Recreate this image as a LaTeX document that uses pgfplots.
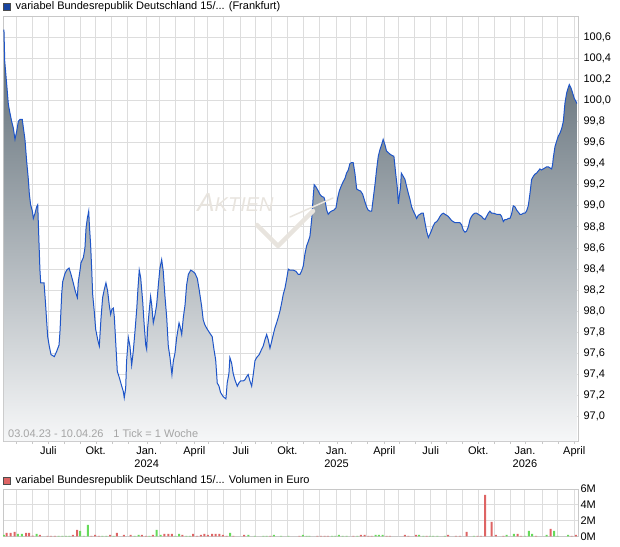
\documentclass[border=0pt]{standalone}
\usepackage{pgfplots}
\pgfplotsset{compat=1.18}
\usepackage{pgfplotstable}
\usepackage{fontspec}
\setmainfont{Liberation Sans}
\definecolor{gridcol}{RGB}{221,221,221}
\definecolor{bordercol}{RGB}{200,200,200}
\definecolor{linecol}{RGB}{30,85,200}
\definecolor{shtop}{RGB}{90,104,114}
\definecolor{shmid}{RGB}{152,162,168}
\definecolor{shbot}{RGB}{246,247,248}
\definecolor{volred}{RGB}{222,100,100}
\definecolor{volgreen}{RGB}{102,218,90}
\definecolor{wm}{RGB}{232,228,222}
\definecolor{infocol}{RGB}{165,165,165}

\pgfplotstableread{
m v
2.94 100.67
2.99 100.37
3.11 100.16
3.22 99.96
3.32 99.88
3.43 99.80
3.53 99.74
3.64 99.63
3.75 99.71
3.85 99.80
3.96 99.82
4.10 99.82
4.17 99.74
4.27 99.63
4.38 99.42
4.48 99.26
4.55 99.11
4.63 99.01
4.74 98.95
4.80 98.88
4.91 98.93
5.01 98.99
5.08 99.01
5.16 98.65
5.22 98.39
5.27 98.27
5.48 98.27
5.58 98.06
5.71 97.76
5.81 97.67
5.92 97.59
6.13 97.57
6.28 97.62
6.43 97.68
6.49 97.81
6.60 98.17
6.66 98.28
6.81 98.36
6.91 98.39
7.06 98.41
7.17 98.36
7.33 98.27
7.46 98.19
7.59 98.13
7.65 98.28
7.76 98.39
7.82 98.46
7.97 98.51
8.07 98.60
8.14 98.79
8.22 98.88
8.31 98.95
8.35 98.82
8.43 98.63
8.50 98.39
8.56 98.16
8.66 98.00
8.75 97.83
8.88 97.73
8.98 97.67
9.09 97.94
9.19 98.13
9.30 98.21
9.40 98.27
9.51 98.19
9.61 98.06
9.70 97.97
9.78 98.02
9.87 98.03
9.93 97.95
10.04 97.65
10.12 97.43
10.25 97.37
10.40 97.29
10.50 97.24
10.56 97.18
10.65 97.27
10.71 97.53
10.82 97.75
10.92 97.67
11.03 97.49
11.13 97.62
11.24 97.81
11.35 98.02
11.43 98.22
11.51 98.39
11.60 98.32
11.73 98.09
11.81 97.90
11.92 97.68
11.98 97.64
12.04 97.84
12.15 98.02
12.23 98.14
12.30 98.06
12.40 97.89
12.51 97.97
12.61 98.06
12.72 98.25
12.82 98.41
12.93 98.49
13.03 98.38
13.14 98.14
13.25 97.94
13.35 97.67
13.46 97.56
13.58 97.40
13.67 97.53
13.77 97.60
13.88 97.75
14.03 97.89
14.09 97.86
14.20 97.78
14.30 97.94
14.41 98.06
14.51 98.25
14.62 98.35
14.77 98.39
14.89 98.38
15.04 98.36
15.19 98.31
15.31 98.20
15.46 98.05
15.56 97.92
15.67 97.87
15.82 97.83
15.99 97.79
16.13 97.76
16.24 97.64
16.35 97.54
16.45 97.32
16.56 97.29
16.66 97.23
16.83 97.19
17.00 97.17
17.08 97.32
17.19 97.41
17.25 97.56
17.36 97.51
17.46 97.41
17.57 97.35
17.72 97.29
17.82 97.32
17.93 97.34
18.10 97.34
18.20 97.35
18.31 97.38
18.41 97.40
18.52 97.34
18.63 97.29
18.73 97.40
18.84 97.53
18.94 97.56
19.11 97.59
19.26 97.64
19.36 97.67
19.47 97.73
19.58 97.78
19.68 97.73
19.79 97.65
19.89 97.71
20.00 97.78
20.10 97.84
20.21 97.89
20.31 97.94
20.42 98.00
20.53 98.08
20.63 98.16
20.74 98.22
20.84 98.30
20.95 98.40
21.05 98.39
21.26 98.39
21.43 98.38
21.58 98.35
21.69 98.35
21.79 98.38
21.90 98.43
22.00 98.54
22.11 98.62
22.21 98.66
22.32 98.71
22.43 98.87
22.53 99.09
22.59 99.20
22.70 99.18
22.85 99.14
22.95 99.11
23.06 99.09
23.21 99.08
23.29 99.04
23.38 98.96
23.48 98.92
23.59 98.94
23.69 98.95
23.84 98.96
23.97 98.98
24.07 99.07
24.18 99.14
24.28 99.18
24.43 99.23
24.54 99.26
24.64 99.31
24.75 99.34
24.85 99.40
24.96 99.41
25.06 99.41
25.17 99.31
25.28 99.16
25.38 99.15
25.53 99.14
25.66 99.11
25.80 99.04
25.91 98.99
26.01 98.96
26.12 98.95
26.23 98.95
26.33 99.07
26.44 99.20
26.54 99.34
26.65 99.47
26.75 99.53
26.86 99.58
26.96 99.63
27.07 99.58
27.17 99.52
27.32 99.50
27.39 99.49
27.49 99.48
27.64 99.47
27.75 99.31
27.85 99.18
27.92 99.02
27.98 99.09
28.06 99.18
28.11 99.31
28.23 99.28
28.34 99.25
28.45 99.18
28.55 99.12
28.66 99.06
28.76 98.99
28.87 98.95
28.97 98.92
29.08 98.88
29.18 98.91
29.29 98.92
29.39 98.93
29.50 98.93
29.61 98.84
29.71 98.76
29.82 98.70
29.92 98.73
30.03 98.77
30.13 98.81
30.24 98.84
30.35 98.85
30.45 98.87
30.56 98.90
30.66 98.92
30.77 98.93
30.87 98.92
30.98 98.91
31.08 98.90
31.19 98.88
31.30 98.86
31.40 98.85
31.51 98.84
31.61 98.84
31.82 98.84
31.93 98.82
32.03 98.77
32.14 98.75
32.24 98.76
32.35 98.80
32.46 98.87
32.56 98.90
32.67 98.92
32.77 98.93
32.88 98.93
32.98 98.92
33.09 98.91
33.19 98.90
33.30 98.88
33.41 98.87
33.51 98.90
33.62 98.93
33.72 98.95
33.83 98.93
33.93 98.93
34.15 98.92
34.36 98.92
34.46 98.90
34.57 98.85
34.67 98.87
34.78 98.87
34.88 98.88
34.99 98.88
35.09 98.92
35.20 99.00
35.31 98.99
35.41 98.96
35.52 98.94
35.62 98.92
35.73 98.92
35.83 98.93
35.94 98.93
36.04 98.95
36.15 99.00
36.26 99.12
36.36 99.25
36.47 99.28
36.57 99.30
36.68 99.31
36.78 99.33
36.89 99.35
36.99 99.34
37.10 99.35
37.21 99.36
37.31 99.37
37.42 99.37
37.52 99.36
37.63 99.35
37.69 99.39
37.73 99.45
37.84 99.56
37.94 99.61
38.05 99.66
38.16 99.69
38.26 99.73
38.37 99.80
38.47 99.97
38.58 100.07
38.68 100.12
38.75 100.15
38.85 100.12
38.96 100.07
39.06 100.02
39.17 99.99
39.23 99.97
}\price

\pgfplotstableread{
m v
3.11 0.42
3.37 0.42
3.62 0.55
4.34 0.42
4.53 0.42
4.76 0.08
5.22 0.17
5.71 0.05
5.92 0.05
6.17 0.05
7.31 0.17
7.57 0.80
8.47 0.05
8.71 0.17
8.96 0.05
9.66 0.17
10.10 0.42
10.54 0.17
10.97 0.17
11.68 0.17
11.94 0.05
12.38 0.17
13.10 0.30
13.35 0.30
13.58 0.30
14.24 0.17
14.93 0.30
15.17 0.05
15.42 0.17
15.63 0.30
15.86 0.17
16.12 0.30
16.35 0.30
16.58 0.30
16.81 0.17
17.05 0.05
17.47 0.05
18.16 0.17
19.81 0.05
21.65 0.05
22.79 0.05
23.02 0.05
23.25 0.05
23.46 0.05
25.07 0.05
25.55 0.17
25.79 0.17
26.02 0.05
26.23 0.05
27.18 0.05
27.39 0.05
28.34 0.17
28.55 0.05
29.04 0.17
29.71 0.05
31.08 0.17
31.57 0.05
31.82 0.05
32.25 0.55
32.94 0.05
33.15 0.05
33.41 5.24
33.83 1.82
34.10 0.17
34.57 0.05
35.48 0.30
35.69 0.05
36.64 0.05
37.56 0.93
38.90 0.05
39.17 0.17
}\volr

\pgfplotstableread{
m v
2.94 0.17
3.83 0.30
4.08 0.30
5.01 0.30
6.41 0.05
6.64 0.05
6.87 0.05
7.08 0.05
7.76 0.68
8.01 0.05
8.26 1.44
9.17 0.05
9.42 0.05
9.89 0.05
11.22 0.05
11.47 0.17
12.15 0.05
12.61 0.80
12.87 0.17
13.79 0.05
14.03 0.30
14.49 0.05
14.72 0.05
17.26 0.42
18.42 0.17
18.84 0.05
19.37 0.05
19.58 0.05
20.04 0.17
20.49 0.05
20.95 0.05
21.88 0.17
22.11 0.05
22.28 0.05
23.72 0.05
23.93 0.05
24.16 0.17
24.39 0.05
24.65 0.05
25.32 0.05
26.48 0.17
26.69 0.17
26.93 0.17
29.23 0.17
29.50 0.05
29.92 0.05
30.13 0.05
30.39 0.05
30.87 0.05
32.71 0.05
34.78 0.17
35.24 0.30
35.94 0.05
36.19 0.68
36.40 0.30
37.31 0.17
37.78 0.68
38.01 0.05
38.68 0.17
}\volg

\begin{document}
\begin{tikzpicture}[x=1pt,y=1pt,font=\fontsize{11}{13}\selectfont]
\pgfplotsset{
  common/.style={
    scale only axis, width=575pt,
    xmin=2.88, xmax=39.30,
    axis line style={draw=bordercol},
    grid=both,
    major grid style={draw=gridcol, line width=1pt},
    minor grid style={draw=gridcol, line width=1pt},
    xtick={5.75,8.75,11.98,15.00,17.95,20.89,24.01,27.03,29.97,32.98,35.94,39.06},
    minor xtick={3.73,4.74,6.76,7.77,9.78,10.79,12.81,13.82,15.84,16.85,18.86,19.87,21.89,22.90,24.92,25.93,27.94,28.95,30.97,31.98,34.00,35.01,37.02,38.03},
    ytick pos=right, yticklabel pos=right,
    xtick pos=left,
    ytick style={draw=none},
    tick label style={font=\fontsize{11}{13}\selectfont, text=black},
    yticklabel style={anchor=west, xshift=-1pt},
    /pgf/number format/assume math mode=true,
  }
}
% main price chart
\begin{axis}[common,
  at={(3pt,105pt)}, anchor=south west, height=425pt,
  ymin=96.77, ymax=100.80,
  ytick={97,97.2,97.4,97.6,97.8,98,98.2,98.4,98.6,98.8,99,99.2,99.4,99.6,99.8,100,100.2,100.4,100.6},
  yticklabel style={/pgf/number format/.cd, fixed, fixed zerofill, precision=1, use comma},
  xticklabels={Juli,Okt.,{Jan.\\2024},April,Juli,Okt.,{Jan.\\2025},April,Juli,Okt.,{Jan.\\2026},April},
  xticklabel style={align=center, yshift=1pt},
  tick align=outside, major tick length=3pt, minor tick length=3pt,
  xtick style={draw=bordercol},
]
\addplot[draw=none, top color=shtop, middle color=shmid, bottom color=shbot] table[x=m,y=v] {\price} -- (axis cs:39.23,96.77) -- (axis cs:2.94,96.77) -- cycle;
\addplot[linecol, line width=1pt, mark=none] table[x=m,y=v] {\price};
\end{axis}
% watermark
\node[text=wm, font=\fontsize{26}{26}\selectfont\itshape] at (235.5,343) {A\fontsize{20}{20}\selectfont KTIEN};
\draw[wm, line width=4.5pt, line cap=round, line join=round] (257,321) -- (278,300) -- (313,335);
\draw[wm, line width=1.5pt, line cap=round] (290,329) -- (333,348);
% info text
\node[anchor=west, text=infocol, inner sep=0pt] at (8,112) {03.04.23 - 10.04.26\hspace{0.9em}1 Tick = 1 Woche};
% legends
\draw[draw=black!70, fill=linecol!80!black] (3.5,536) rectangle (10.5,543);
\node[anchor=west, inner sep=0pt] at (15.5,539.5) {variabel Bundesrepublik Deutschland 15/... (Frankfurt)};
\draw[draw=black!70, fill=volred] (3.5,62) rectangle (10.5,69);
\node[anchor=west, inner sep=0pt] at (15.5,65.5) {variabel Bundesrepublik Deutschland 15/... Volumen in Euro};
% volume chart
\begin{axis}[common,
  at={(3pt,9.7pt)}, anchor=south west, height=47.3pt,
  ymin=0, ymax=6,
  ytick={0,2,4,6}, yticklabels={0M,2M,4M,6M},
  xticklabel=\empty, xtick style={draw=none},
]
\addplot[ybar, bar width=2pt, bar shift=0pt, fill=volred, draw=none] table[x=m,y=v] {\volr};
\addplot[ybar, bar width=2pt, bar shift=0pt, fill=volgreen, draw=none] table[x=m,y=v] {\volg};
\end{axis}
\pgfresetboundingbox
\useasboundingbox (0,0) rectangle (620,546);
\end{tikzpicture}
\end{document}
